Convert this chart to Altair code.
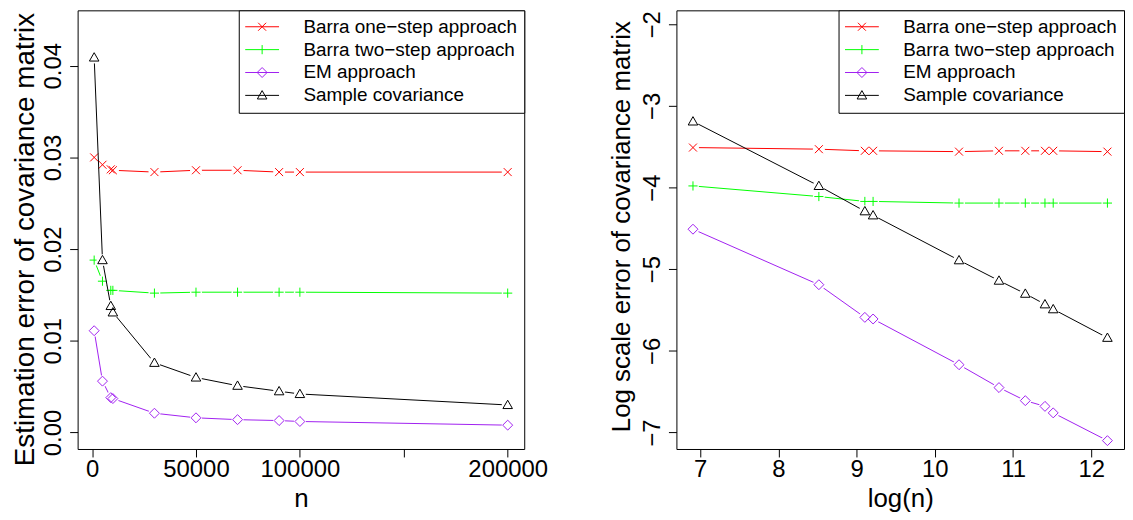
import altair as alt
import pandas as pd

# ---------------- data ----------------
n_values = [1000, 5000, 9000, 10000, 30000, 50000, 70000, 90000, 100000, 200000]
series_names = ["Barra one−step approach", "Barra two−step approach",
                "EM approach", "Sample covariance"]
series_colors = ["#FF0000", "#00FF00", "#A020F0", "#000000"]

# left panel: estimation error
err_one_step = [0.0300, 0.0292, 0.0287, 0.0286, 0.0284, 0.0286, 0.0286, 0.0284, 0.0284, 0.0284]
err_two_step = [0.0188, 0.0165, 0.0155, 0.0155, 0.0152, 0.0153, 0.0153, 0.0153, 0.0153, 0.0152]
err_em = [0.0111, 0.0056, 0.0038, 0.0037, 0.0021, 0.0016, 0.0014, 0.0013, 0.0012, 0.0008]
err_sample = [0.0409, 0.0188, 0.0138, 0.0131, 0.0076, 0.0060, 0.0051, 0.0045, 0.0042, 0.0030]

# right panel: log scale error
log_one_step = [-3.51, -3.53, -3.55, -3.55, -3.56, -3.55, -3.55, -3.55, -3.55, -3.56]
log_two_step = [-3.98, -4.11, -4.17, -4.17, -4.19, -4.19, -4.19, -4.19, -4.19, -4.19]
log_em = [-4.51, -5.19, -5.59, -5.61, -6.17, -6.45, -6.61, -6.68, -6.76, -7.10]
log_sample = [-3.19, -3.98, -4.29, -4.34, -4.89, -5.14, -5.30, -5.43, -5.49, -5.84]

left_x_ticks = [0, 50000, 100000, 150000, 200000]
left_y_ticks = [0.00, 0.01, 0.02, 0.03, 0.04]
right_x_ticks = [7, 8, 9, 10, 11, 12]
right_y_ticks = [-2, -3, -4, -5, -6, -7]

# ---------------- styling ----------------
FONT = "Liberation Sans"
marker_paths = [
    "M-1,-1L1,1M-1,1L1,-1",                 # x
    "M-1.15,0L1.15,0M0,-1.15L0,1.15",       # +
    "M0,-1.25L1.25,0L0,1.25L-1.25,0Z",      # diamond
    "M0,-1.2L1.2,0.9L-1.2,0.9Z",            # triangle
]
legend_paths = [
    "M-2.5,0L6,0M0.75,-1L2.75,1M0.75,1L2.75,-1",
    "M-2.5,0L6,0M1.75,-1.15L1.75,1.15",
    "M-2.5,0L6,0M1.75,-1.25L3,0L1.75,1.25L0.5,0Z",
    "M-2.5,0L6,0M1.75,-1.2L2.95,0.9L0.55,0.9Z",
]

rows = []
err_lists = [err_one_step, err_two_step, err_em, err_sample]
log_lists = [log_one_step, log_two_step, log_em, log_sample]
for s, e_list, l_list in zip(series_names, err_lists, log_lists):
    for n, e, l in zip(n_values, e_list, l_list):
        rows.append({"series": s, "n": n, "err": e, "logerr": l})
df = pd.DataFrame(rows)


def panel(xfield, xdomain, xticks, xformat, xtitle, yfield, ydomain, yticks, yformat,
          ytitle, width, height, ytitle_size, ytitle_x, ytitle_y, xlabel_expr=None):
    base = alt.Chart(df)
    if xfield == "logn":
        base = base.transform_calculate(logn="log(datum.n)")
    xaxis_kw = dict(values=xticks, format=xformat, title=xtitle, labelPadding=20,
                    labelBaseline="alphabetic", titleBaseline="alphabetic", titleY=58,
                    labelOverlap=False, labelFlush=False)
    if xlabel_expr:
        xaxis_kw["labelExpr"] = xlabel_expr
    x_enc = alt.X(f"{xfield}:Q", scale=alt.Scale(domain=xdomain, nice=False, zero=False),
                  axis=alt.Axis(**xaxis_kw))
    y_enc = alt.Y(f"{yfield}:Q", scale=alt.Scale(domain=ydomain, nice=False, zero=False),
                  axis=alt.Axis(values=yticks, format=yformat, title=ytitle,
                                labelAngle=270, labelAlign="center",
                                labelBaseline="alphabetic", labelPadding=9,
                                titleAngle=270, titleAlign="center",
                                titleBaseline="alphabetic", titleX=ytitle_x, titleY=ytitle_y,
                                titleFontSize=ytitle_size,
                                labelOverlap=False, labelFlush=False))
    layers = []
    leg = base.mark_point(filled=False, opacity=0, strokeWidth=1).encode(
        x=x_enc, y=y_enc,
        stroke=alt.Stroke("series:N", title=None,
                          scale=alt.Scale(domain=series_names, range=series_colors)),
        shape=alt.Shape("series:N", title=None,
                        scale=alt.Scale(domain=series_names, range=legend_paths)),
    )
    layers.append(leg)
    for s, col, path in zip(series_names, series_colors, marker_paths):
        flt = base.transform_filter(alt.datum.series == s)
        layers.append(flt.mark_line(color=col, strokeWidth=1).encode(
            x=x_enc, y=y_enc, order="n:Q"))
        layers.append(flt.mark_point(shape="circle", size=144, filled=True, color="white",
                                     opacity=1).encode(x=x_enc, y=y_enc))
        layers.append(flt.mark_point(shape=path, size=64, filled=False, color=col,
                                     strokeWidth=1, opacity=1).encode(x=x_enc, y=y_enc))
    return alt.layer(*layers).properties(width=width, height=height)


left = panel("n", [-6960, 207960], left_x_ticks, "d", "n",
             "err", [-0.0018, 0.04604], left_y_ticks, ".2f",
             "Estimation error of covariance matrix", 449, 441, 28, -44, 230,
             xlabel_expr="datum.value == 150000 ? '' : datum.label")
right = panel("logn", [6.696, 12.418], right_x_ticks, "d", "log(n)",
              "logerr", [-7.2022, -1.8294], right_y_ticks, "d",
              "Log scale error of covariance matrix", 450, 441, 26, -47, 217)

chart = alt.hconcat(left, right, spacing=153, bounds="flush").resolve_scale(
    x="independent", y="independent", stroke="independent", shape="independent"
).resolve_legend(stroke="independent", shape="independent").properties(
    padding={"left": 3, "top": 0, "right": 0, "bottom": 0}, background="white"
).configure_view(stroke="black", strokeWidth=1).configure_axis(
    domain=False, grid=False, ticks=True, tickSize=8, tickColor="black", tickWidth=1,
    labelFont=FONT, labelFontSize=24, labelColor="black",
    titleFont=FONT, titleFontSize=26, titleFontWeight="normal", titleColor="black"
).configure_legend(
    orient="top-right", offset=0, padding=7, strokeColor="black", strokeWidth=1,
    fillColor="white", labelFont=FONT, labelFontSize=19, labelColor="black",
    labelLimit=400, symbolSize=64, symbolStrokeWidth=1, symbolOpacity=1,
    labelOffset=39, rowPadding=3, cornerRadius=0
)

chart.save("out.html", embed_options={"renderer": "svg", "actions": False})
